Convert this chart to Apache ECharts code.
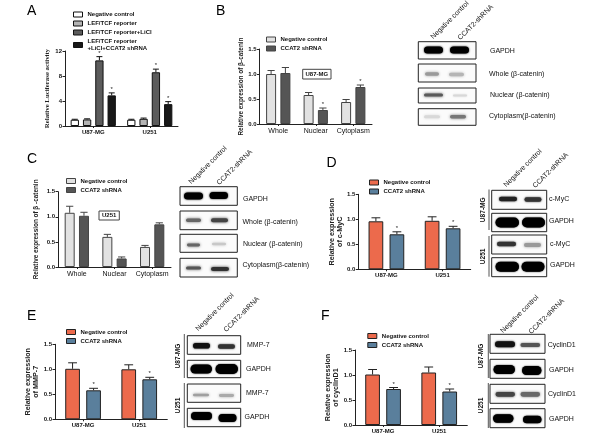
<!DOCTYPE html>
<html><head><meta charset="utf-8">
<style>html,body{margin:0;padding:0;background:#fff}#c{width:600px;height:441px;filter:blur(0.45px)}</style>
<script src="https://cdn.jsdelivr.net/npm/echarts@6/dist/echarts.min.js"></script></head>
<body><div id="c"></div>
<script>
// ---- data ----
const cellCats = ['U87-MG', 'U251'];
const fracCats = ['Whole', 'Nuclear', 'Cytoplasm'];
const aNames = ['Negative control', 'LEF/TCF reporter', 'LEF/TCF reporter+LiCl', 'LEF/TCF reporter\n+LiCl+CCAT2 shRNA'];
const abNames = ['Negative control', 'CCAT2 shRNA'];
const aValues = [[1.0, 1.0], [1.05, 1.15], [10.5, 8.6], [4.9, 3.5]];
const aErrors = [[0.08, 0.08], [0.1, 0.12], [0.6, 0.5], [0.4, 0.4]];
const aStars = [[0, 0], [0, 0], [1, 1], [1, 1]];
const bValues = [[1.0, 0.58, 0.44], [1.02, 0.28, 0.74]];
const bErrors = [[0.07, 0.05, 0.05], [0.11, 0.04, 0.04]];
const bStars = [[0, 0, 0], [0, 1, 1]];
const cValues = [[1.08, 0.60, 0.40], [1.02, 0.17, 0.85]];
const cErrors = [[0.13, 0.05, 0.03], [0.07, 0.03, 0.03]];
const cStars = [[0, 0, 0], [0, 0, 0]];
const dValues = [[0.96, 0.97], [0.70, 0.82]];
const dErrors = [[0.07, 0.08], [0.05, 0.04]];
const dStars = [[0, 0], [1, 1]];
const eValues = [[1.01, 1.0], [0.58, 0.80]];
const eErrors = [[0.12, 0.09], [0.04, 0.04]];
const eStars = [[0, 0], [1, 1]];
const fValues = [[1.01, 1.05], [0.72, 0.67]];
const fErrors = [[0.10, 0.11], [0.03, 0.05]];
const fStars = [[0, 0], [1, 1]];

// ---- styling / layout ----
const SANS = '"Liberation Sans",Arial,sans-serif', SERIF = '"Liberation Serif",serif';
const grey4 = ['#ffffff', '#b4b4b4', '#5c5c5c', '#181818'];
const grey2 = ['#e2e2e2', '#555555'];
const color2 = ['#ec6a4c', '#5a7f9c'];
const panels = [
 {names:aNames,cats:cellCats,vals:aValues,errs:aErrors,stars:aStars,box:[65,51,113,75],max:12,int:4,dec:0,
  yName:'Relative Luciferase activity',yFont:SERIF,ySize:6.8,gap:13.5,colors:grey4,border:'#111',bw:8.3,bg:4,catSize:6,catBold:true,
  leg:[73,11],legGap:2},
 {names:abNames,cats:fracCats,vals:bValues,errs:bErrors,stars:bStars,box:[259.5,49,112.5,75],max:1.5,int:.5,dec:1,
  yName:'Relative expression of β-catenin',yFont:SANS,ySize:6.4,gap:15,colors:grey2,border:'#444',bw:10,bg:4.3,catSize:7,catBold:false,
  leg:[266,36],legGap:2},
 {names:abNames,cats:fracCats,vals:cValues,errs:cErrors,stars:cStars,box:[58,191.7,113,75.3],max:1.5,int:.5,dec:1,
  yName:'Relative expression of β -catenin',yFont:SANS,ySize:6.4,gap:18,colors:grey2,border:'#444',bw:10,bg:4.3,catSize:7,catBold:false,
  leg:[66,177.5],legGap:2},
 {names:abNames,cats:cellCats,vals:dValues,errs:dErrors,stars:dStars,box:[358.3,194.3,112.4,75],max:1.5,int:.5,dec:1,
  yName:'Relative expression\nof c-MyC',yFont:SANS,ySize:7.2,gap:14,colors:color2,border:'#222',bw:14.7,bg:6.3,catSize:6,catBold:true,
  leg:[369,179],legGap:2},
 {names:abNames,cats:cellCats,vals:eValues,errs:eErrors,stars:eStars,box:[55,344.3,112.3,75],max:1.5,int:.5,dec:1,
  yName:'Relative expression\nof MMP-7',yFont:SANS,ySize:7.2,gap:14.5,colors:color2,border:'#222',bw:14.7,bg:6.3,catSize:6,catBold:true,
  leg:[66,328.5],legGap:2},
 {names:abNames,cats:cellCats,vals:fValues,errs:fErrors,stars:fStars,box:[355,350,112.3,75],max:1.5,int:.5,dec:1,
  yName:'Relative expression\nof cyclinD1',yFont:SANS,ySize:7.2,gap:14.5,colors:color2,border:'#222',bw:14.7,bg:6.3,catSize:6,catBold:true,
  leg:[367.3,332.5],legGap:2}
];

const grid = [], xAxis = [], yAxis = [], series = [], legend = [];
panels.forEach((p, pi) => {
  grid.push({left:p.box[0], top:p.box[1], width:p.box[2], height:p.box[3], containLabel:false});
  const line = {show:true, onZero:false, lineStyle:{color:'#222', width:1}};
  xAxis.push({gridIndex:pi, type:'category', data:p.cats, axisLine:line,
    axisTick:{show:true, alignWithLabel:true, length:2, lineStyle:{color:'#222', width:1}},
    axisLabel:{fontFamily:SANS, fontSize:p.catSize, fontWeight:p.catBold?'bold':'normal', color:'#111', margin:3.5, interval:0}});
  yAxis.push({gridIndex:pi, type:'value', min:0, max:p.max, interval:p.int, splitLine:{show:false}, axisLine:line,
    axisTick:{show:true, length:2.5, lineStyle:{color:'#222', width:1}},
    axisLabel:{fontFamily:SANS, fontSize:6, fontWeight:'bold', color:'#111', margin:3, formatter:v => v.toFixed(p.dec)},
    name:p.yName, nameLocation:'middle', nameGap:p.gap, nameMoveOverlap:false,
    nameTextStyle:{fontFamily:p.yFont, fontSize:p.ySize, fontWeight:'bold', color:'#222', lineHeight:p.ySize*1.12}});
  legend.push({left:p.leg[0], top:p.leg[1], orient:'vertical', padding:0, itemWidth:9, itemHeight:5, itemGap:p.legGap,
    selectedMode:false, textStyle:{fontFamily:SANS, fontSize:6, fontWeight:'bold', color:'#111', lineHeight:7},
    data:p.names.map((n,i) => ({name:n, icon:'rect', itemStyle:{color:p.colors[i], borderColor:p.border, borderWidth:1}}))});
  const n = p.names.length;
  p.names.forEach((name, si) => {
    series.push({type:'bar', name, xAxisIndex:pi, yAxisIndex:pi, data:p.vals[si], barWidth:p.bw, barGap:(p.bg/p.bw*100)+'%',
      silent:true, animation:false, itemStyle:{color:p.colors[si], borderColor:p.border, borderWidth:1}});
  });
  p.names.forEach((name, si) => {
    const off = (p.bw + p.bg) * (si - (n - 1) / 2), cap = p.bw * (pi > 2 ? 0.3 : 0.36);
    series.push({type:'custom', name:'err'+pi+'-'+si, xAxisIndex:pi, yAxisIndex:pi, silent:true, animation:false, clip:false, z:1,
      data:p.vals[si].map((v,ci) => [ci, v, p.errs[si][ci], p.stars[si][ci]]),
      renderItem:(params, api) => {
        const a = api.coord([api.value(0), api.value(1)]);
        const b = api.coord([api.value(0), api.value(1) + api.value(2)]);
        const x = a[0] + off, st = {stroke:p.border, lineWidth:1, fill:null};
        const kids = [
          {type:'line', shape:{x1:x, y1:a[1], x2:x, y2:b[1]}, style:st},
          {type:'line', shape:{x1:x-cap, y1:b[1], x2:x+cap, y2:b[1]}, style:st}
        ];
        if (api.value(3)) kids.push({type:'text', style:{x, y:b[1]-0.5, text:'*', fill:'#222', fontSize:6, fontFamily:SANS, align:'center', verticalAlign:'bottom'}});
        return {type:'group', children:kids};
      }});
  });
});

// ---- non-chart artwork: panel letters, cell-line tags, western blots ----
const g = [];
const txt = (x, y, text, size, opt={}) => g.push({type:'text', x, y, rotation:opt.rot||0, silent:true, style:{text, fontSize:size,
  fontFamily:SANS, fontWeight:opt.w||'normal', fill:opt.c||'#111', align:opt.a||'left', verticalAlign:'middle'}});
[['A',27,11],['B',216,11],['C',27,159],['D',326.5,163],['E',27,316],['F',321,316]].forEach(l => txt(l[1], l[2], l[0], 14, {c:'#000'}));
const tag = (x0,y0,x1,y1,t) => { g.push({type:'rect', silent:true, shape:{x:x0,y:y0,width:x1-x0,height:y1-y0}, style:{fill:'#fff',stroke:'#444',lineWidth:1}});
  txt((x0+x1)/2,(y0+y1)/2,t,6,{w:'bold',a:'center'}); };
tag(302.7,69.3,331,79,'U87-MG'); tag(99,211,119.3,220,'U251');
const blot = (x0,y0,x1,y1,bands) => {
  g.push({type:'rect', silent:true, shape:{x:x0,y:y0,width:x1-x0,height:y1-y0}, style:{fill:'#fbfbfb',stroke:'#222',lineWidth:1}});
  bands.forEach(b => g.push({type:'rect', silent:true, shape:{x:b[0], y:b[2]-b[3], width:b[1]-b[0], height:2*b[3], r:b[3]},
    style:{fill:b[4], shadowBlur:b[5]||2, shadowColor:b[4]}}));
};
const head = (x1,y1,x2,y2) => { const r = Math.PI/4;
  txt(x1,y1,'Negative control',7,{rot:r}); txt(x2,y2,'CCAT2-shRNA',7,{rot:r}); };
const vbar = (x,y0,y1,t,tx) => { g.push({type:'line', silent:true, shape:{x1:x,y1:y0,x2:x,y2:y1}, style:{stroke:'#555',lineWidth:1}});
  txt(tx,(y0+y1)/2,t,6.6,{rot:Math.PI/2,a:'center',w:'bold'}); };

// B
head(432,38,459,39);
blot(418.3,41.7,476,59,[[424,443,50,3.6,'#000'],[450,469,50,3.6,'#000']]);
blot(418.3,64,476,82,[[425,439,74,1.8,'#9a9a9a',3],[449,464,74.5,1.8,'#b5b5b5',3]]);
blot(418.3,88,476,103,[[424,443,95,1.5,'#5a5a5a',3],[453,467,95.5,0.9,'#d8d8d8',2]]);
blot(418.3,108.7,476,125.3,[[424,440,116.7,1.5,'#d8d8d8',3],[450,466,116.7,1.7,'#777',3]]);
txt(490,51,'GAPDH',7); txt(489,74,'Whole (β-catenin)',7); txt(490,95.5,'Nuclear (β-catenin)',7); txt(489,116.5,'Cytoplasm(β-catenin)',7);
// C
head(190,183,218,184);
blot(180,186.7,237.3,205.3,[[184,203,196,3.6,'#000'],[209.5,228,195.5,3.6,'#000']]);
blot(180,211,237.3,229.7,[[186,201,220.3,1.7,'#666',3],[211,228,220.3,2,'#444',3]]);
blot(180,234.3,237.3,252.3,[[187,200,245,1.4,'#666',3],[212,226,244,1.3,'#c8c8c8',3]]);
blot(180,258.3,237.3,277,[[186,201,268,1.5,'#555',3],[211,229,269,2.1,'#333',3]]);
txt(243,199,'GAPDH',7); txt(242.5,222,'Whole (β-catenin)',7); txt(243,244,'Nuclear (β-catenin)',7); txt(242.5,265,'Cytoplasm(β-catenin)',7);
// D
head(505,186,534,187);
blot(491.7,190.3,546.7,209.3,[[499,517,199,2.2,'#222',2],[524.5,541.5,199.5,2.2,'#333',2]]);
blot(491.7,213.3,546.7,231.7,[[495.5,519,222.5,5,'#000',1.5],[522,545,222.5,5,'#000',1.5]]);
blot(491.7,235,546.7,254,[[497,516,244,2.2,'#333',2],[524,541,245,1.9,'#999',3]]);
blot(491.7,257.7,546.7,276.7,[[495.5,519,266.7,5,'#000',1.5],[521.5,544.5,266.7,5,'#000',1.5]]);
txt(549,199,'c-MyC',7); txt(549,221.5,'GAPDH',7); txt(550,244,'c-MyC',7); txt(550,265,'GAPDH',7);
vbar(489,189.5,230,'U87-MG',482.7); vbar(489,236,276.7,'U251',482.7);
// E
head(197,330,225,331);
blot(187.3,335.7,240.7,354.3,[[193,210,345.7,2.8,'#111',2],[218,235,346.5,2.2,'#333',2]]);
blot(187.3,360.3,240.7,377.7,[[190.5,212,369,4.6,'#000',1.5],[215.5,238,369,5,'#000',1.5]]);
blot(187.3,384,240.7,402.3,[[193,209,395,1.2,'#a0a0a0',3],[219,234,395.5,1.4,'#aaa',3]]);
blot(187.3,408.3,240.7,426.7,[[191,212,416,4,'#000',1.5],[218.5,236.5,418,4,'#000',1.5]]);
txt(247,345,'MMP-7',7); txt(246,369,'GAPDH',7); txt(246,393.5,'MMP-7',7); txt(244.5,417,'GAPDH',7);
vbar(184.3,334,378,'U87-MG',178); vbar(184.3,383,428,'U251',178);
// F
head(501.7,332,530,333);
blot(490,334.3,545,353.3,[[495,515,344.3,3,'#111',2],[520.5,540,345,2,'#555',2]]);
blot(490,359.3,545,378.3,[[493.5,515,369.5,4.6,'#000',1.5],[522,541.5,370.5,4.6,'#000',1.5]]);
blot(490,384.3,545,403.3,[[495.5,515,394.3,2.4,'#444',2.5],[520.5,540,394.3,2.4,'#666',2.5]]);
blot(490,408.7,545,427.7,[[493,513.5,418.5,4.2,'#000',1.5],[523,541.5,419.5,3.8,'#000',1.5]]);
txt(547.7,345,'CyclinD1',7); txt(549,370,'GAPDH',7); txt(548,394.5,'CyclinD1',7); txt(549,419,'GAPDH',7);
vbar(488.3,334,378,'U87-MG',481); vbar(488.3,383,428,'U251',481);

const chart = echarts.init(document.getElementById('c'), null, {renderer:'canvas', width:600, height:441});
chart.setOption({animation:false, backgroundColor:'#fff', tooltip:{show:false}, grid, xAxis, yAxis, legend, series, graphic:{elements:g}});
</script></body></html>
